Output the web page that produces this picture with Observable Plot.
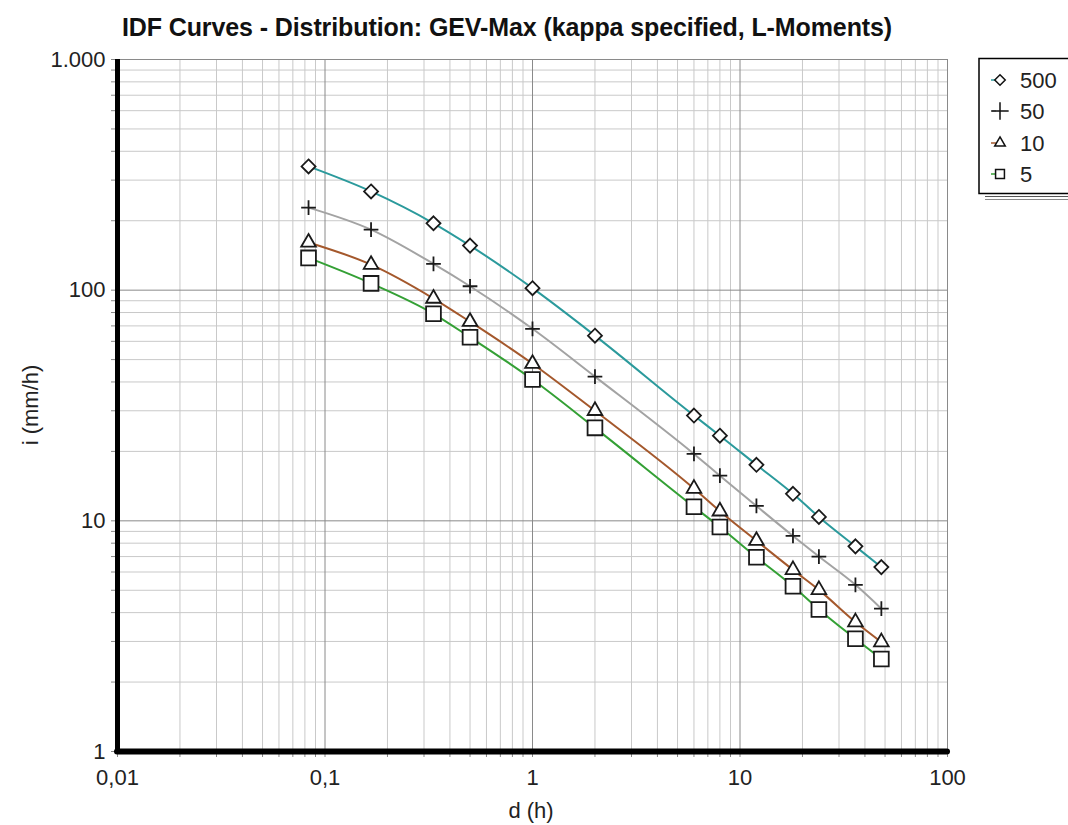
<!DOCTYPE html>
<html>
<head>
<meta charset="utf-8">
<script src="https://cdn.jsdelivr.net/npm/d3@7"></script>
<script src="https://cdn.jsdelivr.net/npm/@observablehq/plot@0.6"></script>
<style>
  html, body { margin: 0; padding: 0; background: #fff; }
  #wrap { position: relative; width: 1068px; height: 825px; overflow: hidden; font-family: "Liberation Sans", Arial, sans-serif; }
  #title { position: absolute; left: 0; width: 1014px; top: 13px; text-align: center; font-weight: bold; font-size: 25px; color: #111; letter-spacing: -0.1px; }
  #chart { position: absolute; left: 0; top: 0; }
</style>
</head>
<body>
<div id="wrap">
  <div id="chart"></div>
  <div id="title">IDF Curves - Distribution: GEV-Max (kappa specified, L-Moments)</div>
</div>
<script>
// Durations (h)
const durations = [0.0833, 0.1667, 0.3333, 0.5, 1, 2, 6, 8, 12, 18, 24, 36, 48];
// Intensities (mm/h) per return period
const i500 = [344, 268, 195, 156, 102, 63.5, 28.6, 23.4, 17.5, 13.1, 10.4, 7.75, 6.3];
const i50  = [228, 183, 130, 104, 68, 42.2, 19.5, 15.7, 11.6, 8.6, 7.0, 5.28, 4.16];
const i10  = [161, 129, 92, 73, 48, 30, 13.8, 11.0, 8.2, 6.13, 5.02, 3.64, 2.98];
const i5   = [138, 107, 79, 62.5, 41, 25.3, 11.5, 9.4, 6.95, 5.2, 4.13, 3.08, 2.52];

const seriesNames = ["500", "50", "10", "5"];
const seriesValues = [i500, i50, i10, i5];
const seriesColors = ["#2b9a9c", "#a3a3a3", "#a4582c", "#34a035"];
const seriesSymbols = ["diamond2", "plus", "triangle2", "square2"];
const seriesR = [6.3, 4.8, 7.0, 9.4];

// Axis ticks
const xMajor = [0.01, 0.1, 1, 10, 100];
const xMajorLabels = ["0,01", "0,1", "1", "10", "100"];
const yMajor = [1, 10, 100, 1000];
const yMajorLabels = ["1", "10", "100", "1.000"];

const minorOf = (majors) => {
  const out = [];
  for (let k = 0; k < majors.length - 1; k++)
    for (let m = 2; m <= 9; m++) out.push(majors[k] * m);
  return out;
};
const xMinor = minorOf(xMajor);
const yMinor = minorOf(yMajor);

const rows = [];
seriesNames.forEach((name, s) => {
  durations.forEach((d, j) => rows.push({series: name, d, i: seriesValues[s][j]}));
});

const marks = [
  Plot.ruleX(xMinor, {stroke: "#c9c9c9", strokeWidth: 1}),
  Plot.ruleY(yMinor, {stroke: "#c9c9c9", strokeWidth: 1}),
  Plot.ruleX(xMajor.slice(1), {stroke: "#8a8a8a", strokeWidth: 1}),
  Plot.ruleY(yMajor.slice(1), {stroke: "#8a8a8a", strokeWidth: 1}),
  Plot.axisX([...xMajor, ...xMinor], {
    tickSize: 6, tickPadding: 12, stroke: "#888",
    tickFormat: d => { const k = xMajor.indexOf(d); return k >= 0 ? xMajorLabels[k] : ""; },
    fontSize: 22, label: null
  }),
  Plot.axisY([...yMajor, ...yMinor], {
    tickSize: 6, tickPadding: 6, stroke: "#888",
    tickFormat: d => { const k = yMajor.indexOf(d); return k >= 0 ? yMajorLabels[k] : ""; },
    fontSize: 22, label: null
  })
];
seriesNames.forEach((name, s) => {
  const data = rows.filter(r => r.series === name);
  marks.push(Plot.line(data, {x: "d", y: "i", stroke: seriesColors[s], strokeWidth: 2, curve: "monotone-x"}));
});
marks.push(Plot.ruleX([0.01], {stroke: "#000", strokeWidth: 5, y1: 1, y2: 1000}));
marks.push(Plot.ruleY([1], {stroke: "#000", strokeWidth: 6, x1: 0.01, x2: 100, strokeLinecap: "round"}));
seriesNames.forEach((name, s) => {
  const data = rows.filter(r => r.series === name);
  marks.push(Plot.dot(data, {
    x: "d", y: "i", symbol: () => seriesSymbols[s], r: seriesR[s],
    stroke: "#1a1a1a", strokeWidth: 1.8, fill: seriesSymbols[s] === "plus" ? "none" : "white"
  }));
});

const chart = Plot.plot({
  width: 1068,
  height: 825,
  marginTop: 59,
  marginBottom: 74,
  marginLeft: 117,
  marginRight: 121,
  style: {fontFamily: "'Liberation Sans', Arial, sans-serif", color: "#222", background: "white"},
  x: {type: "log", domain: [0.01, 100]},
  y: {type: "log", domain: [1, 1000]},
  symbol: {type: "identity"},
  marks
});
document.getElementById("chart").appendChild(chart);

// Axis titles and legend drawn into the same SVG
const svg = d3.select(chart);
svg.append("text")
  .attr("transform", "translate(30,405) rotate(-90)")
  .attr("text-anchor", "middle").attr("dy", "0.36em")
  .attr("font-size", 22).attr("fill", "#222")
  .text("i (mm/h)");
svg.append("text")
  .attr("x", 531).attr("y", 810)
  .attr("text-anchor", "middle").attr("dy", "0.36em")
  .attr("font-size", 22).attr("fill", "#222")
  .text("d (h)");

const lg = svg.append("g");
lg.append("rect").attr("x", 979).attr("y", 58.5).attr("width", 100).attr("height", 135)
  .attr("fill", "white").attr("stroke", "#000").attr("stroke-width", 1.5);
lg.append("line").attr("x1", 985).attr("x2", 1068).attr("y1", 196.5).attr("y2", 196.5).attr("stroke", "#555").attr("stroke-width", 1.2);
lg.append("line").attr("x1", 985).attr("x2", 1068).attr("y1", 199.5).attr("y2", 199.5).attr("stroke", "#888").attr("stroke-width", 1.2);
const rowY = [80, 111, 143, 174];
const d3Sym = {diamond2: d3.symbolDiamond2, plus: d3.symbolPlus, triangle2: d3.symbolTriangle2, square2: d3.symbolSquare2};
seriesNames.forEach((name, s) => {
  const y = rowY[s];
  lg.append("line").attr("x1", 991).attr("x2", 996).attr("y1", y).attr("y2", y)
    .attr("stroke", seriesColors[s]).attr("stroke-width", 1.5);
  lg.append("path")
    .attr("transform", `translate(1000,${y})`)
    .attr("d", d3.symbol(d3Sym[seriesSymbols[s]], [70, 100, 80, 100][s])())
    .attr("fill", seriesSymbols[s] === "plus" ? "none" : "white")
    .attr("stroke", "#111").attr("stroke-width", 1.5);
  lg.append("text").attr("x", 1020).attr("y", y).attr("dy", "0.36em")
    .attr("text-anchor", "start")
    .attr("font-size", 22).attr("fill", "#222").text(name);
});
</script>
</body>
</html>
